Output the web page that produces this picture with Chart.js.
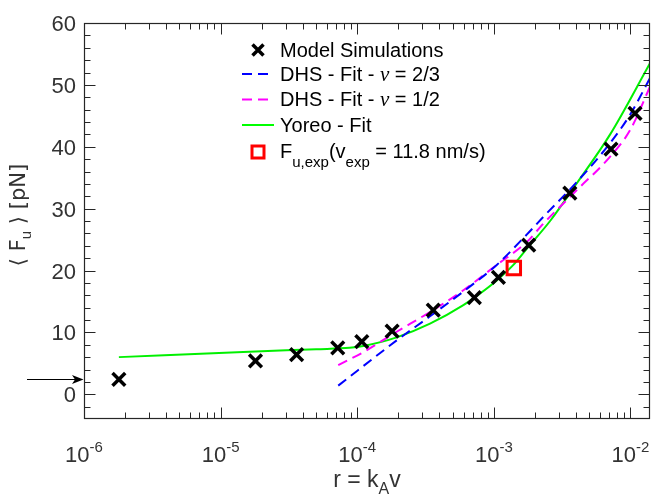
<!DOCTYPE html>
<html><head><meta charset="utf-8">
<script src="https://cdn.jsdelivr.net/npm/chart.js@4.4.0/dist/chart.umd.min.js"></script>
<style>html,body{margin:0;padding:0;background:#fff;}#wrap{width:651px;height:496px;position:relative;}</style>
</head><body><div id="wrap"><canvas id="c" width="651" height="496"></canvas></div>
<script>
// ---- data ----
const simX = [1.8e-6, 1.8e-5, 3.6e-5, 7.2e-5, 1.08e-4, 1.8e-4, 3.6e-4, 7.2e-4, 1.08e-3, 1.8e-3, 3.6e-3, 7.2e-3, 1.08e-2];
const simY = [2.4, 5.4, 6.4, 7.5, 8.5, 10.2, 13.6, 15.6, 18.9, 24.1, 32.5, 39.6, 45.4];

const dhs23X = [7.26e-5, 1.945e-4, 3.41e-4, 5.98e-4, 1.05e-3, 1.74e-3, 2.31e-3, 4.05e-3, 7.10e-3, 9.95e-3, 1.39e-2];
const dhs23Y = [1.4, 8.7, 12.6, 16.6, 20.9, 25.8, 28.7, 34.3, 40.6, 45.2, 51.1];

const dhs12X = [7.26e-5, 1.107e-4, 1.945e-4, 3.41e-4, 5.98e-4, 1.05e-3, 1.74e-3, 2.31e-3, 4.05e-3, 7.10e-3, 9.95e-3, 1.39e-2];
const dhs12Y = [4.7, 6.8, 10.1, 13.3, 16.8, 20.9, 24.6, 27.6, 33.0, 38.4, 42.7, 49.7];

const yoreoX = [1.8e-6, 1.8e-5, 5.0e-5, 8.8e-5, 1.107e-4, 1.945e-4, 3.41e-4, 5.98e-4, 7.94e-4, 1.05e-3, 1.39e-3, 1.74e-3, 2.58e-3, 4.05e-3, 7.10e-3, 1.39e-2];
const yoreoY = [6.0, 6.9, 7.28, 7.5, 7.8, 9.2, 11.4, 14.4, 16.3, 18.4, 20.9, 23.5, 28.0, 34.1, 42.0, 53.5];

const expX = [1.40e-3];
const expY = [20.4];

const xTickExps = [-6, -5, -4, -3, -2];
const yTickVals = [0, 10, 20, 30, 40, 50, 60];
const arrowY = 2.4;

const pts = (xs, ys) => xs.map((x, i) => ({x: x, y: ys[i]}));

const FONT = '"Liberation Sans", Arial, Helvetica, sans-serif';
const AXC = '#262626';

function drawParts(ctx, parts, x, y, align) {
  let w = 0;
  parts.forEach(p => { ctx.font = (p.style || '') + ' ' + p.size + 'px ' + (p.font || FONT); p.w = ctx.measureText(p.t).width; w += p.w; });
  let cx = align === 'center' ? x - w / 2 : (align === 'right' ? x - w : x);
  parts.forEach(p => {
    ctx.font = (p.style || '') + ' ' + p.size + 'px ' + (p.font || FONT);
    ctx.fillText(p.t, cx, y + (p.dy || 0));
    cx += p.w;
  });
}

const overlay = {
  id: 'overlay',
  afterDraw(chart) {
    const {ctx, chartArea: a, scales: {x, y}} = chart;
    ctx.save();
    ctx.strokeStyle = AXC;
    ctx.lineWidth = 1;
    ctx.beginPath();
    const L = a.left + 0.5, R = a.right - 0.5, T = a.top + 0.5, B = a.bottom - 0.5;
    for (let v = -4; v <= 60; v += 2) {
      const py = Math.round(y.getPixelForValue(v)) + 0.5;
      if (py > B - 1 || py < T + 1) continue;
      const len = (v % 10 === 0) ? 11 : 6;
      ctx.moveTo(L, py); ctx.lineTo(L + len, py);
      ctx.moveTo(R, py); ctx.lineTo(R - len, py);
    }
    for (let e = -6; e <= -2; e++) {
      for (let k = 1; k <= 9; k++) {
        const v = k * Math.pow(10, e);
        if (v > x.max * 1.0001 || v < x.min * 0.9999) continue;
        const px = Math.round(x.getPixelForValue(v)) + 0.5;
        if (px < L + 1 || px > R - 1) continue;
        const len = k === 1 ? 11 : 6;
        ctx.moveTo(px, B); ctx.lineTo(px, B - len);
        ctx.moveTo(px, T); ctx.lineTo(px, T + len);
      }
    }
    ctx.stroke();
    ctx.lineWidth = 1.2;
    ctx.strokeRect(L, T, R - L, B - T);

    ctx.fillStyle = '#333';
    ctx.textBaseline = 'middle';
    yTickVals.forEach(v => {
      drawParts(ctx, [{t: String(v), size: 22}], 76, y.getPixelForValue(v) + 2, 'right');
    });
    ctx.textBaseline = 'alphabetic';
    xTickExps.forEach(e => {
      const px = x.getPixelForValue(Math.pow(10, e));
      drawParts(ctx, [{t: '10', size: 22}, {t: String(e), size: 15, dy: -10}], px, 462, 'center');
    });

    drawParts(ctx, [{t: 'r = k', size: 23}, {t: 'A', size: 16, dy: 7}, {t: 'v', size: 23}], (a.left + a.right) / 2, 487, 'center');
    ctx.save();
    ctx.translate(25, (a.top + a.bottom) / 2 - 6);
    ctx.rotate(-Math.PI / 2);
    drawParts(ctx, [{t: '\u27E8 F', size: 21, font: '"DejaVu Sans", ' + FONT}, {t: 'u', size: 15, dy: 6}, {t: ' \u27E9 [pN]', size: 21, font: '"DejaVu Sans", ' + FONT}], 0, 0, 'center');
    ctx.restore();

    const ay = Math.round(y.getPixelForValue(arrowY)) + 0.5;
    ctx.strokeStyle = '#000'; ctx.fillStyle = '#000'; ctx.lineWidth = 1;
    ctx.beginPath(); ctx.moveTo(27, ay); ctx.lineTo(76, ay); ctx.stroke();
    ctx.beginPath(); ctx.moveTo(83.5, ay); ctx.lineTo(72, ay - 4.5); ctx.lineTo(75, ay); ctx.lineTo(72, ay + 4.5); ctx.closePath(); ctx.fill();

    const rows = [50, 74, 99.5, 125, 152];
    const tx = 280;
    ctx.fillStyle = '#000';
    ctx.textBaseline = 'middle';
    ctx.lineWidth = 3.5; ctx.strokeStyle = '#000';
    ctx.beginPath();
    ctx.moveTo(258 - 5.5, rows[0] - 5.5); ctx.lineTo(258 + 5.5, rows[0] + 5.5);
    ctx.moveTo(258 - 5.5, rows[0] + 5.5); ctx.lineTo(258 + 5.5, rows[0] - 5.5);
    ctx.stroke();
    drawParts(ctx, [{t: 'Model Simulations', size: 20}], tx, rows[0] + 1, 'left');
    [['#0000ff', '2/3', rows[1]], ['#ff00ff', '1/2', rows[2]]].forEach(([c, f, ry]) => {
      ctx.strokeStyle = c; ctx.lineWidth = 2; ctx.setLineDash([10, 6]);
      ctx.beginPath(); ctx.moveTo(242, ry); ctx.lineTo(272, ry); ctx.stroke();
      ctx.setLineDash([]);
      drawParts(ctx, [{t: 'DHS - Fit - ', size: 20}, {t: '\u03BD', size: 21, style: 'italic', font: '"Liberation Serif", "Times New Roman", serif'}, {t: ' = ' + f, size: 20}], tx, ry + 1, 'left');
    });
    ctx.strokeStyle = '#00ff00'; ctx.lineWidth = 2;
    ctx.beginPath(); ctx.moveTo(242, rows[3]); ctx.lineTo(274, rows[3]); ctx.stroke();
    drawParts(ctx, [{t: 'Yoreo - Fit', size: 20}], tx, rows[3] + 1, 'left');
    ctx.strokeStyle = '#ff0000'; ctx.lineWidth = 3;
    ctx.strokeRect(258 - 6, rows[4] - 6, 12, 12);
    drawParts(ctx, [{t: 'F', size: 20}, {t: 'u,exp', size: 15, dy: 11}, {t: '(v', size: 20}, {t: 'exp', size: 15, dy: 11}, {t: ' = 11.8 nm/s)', size: 20}], tx, rows[4], 'left');
    ctx.restore();
  }
};

new Chart(document.getElementById('c'), {
  type: 'scatter',
  data: {datasets: [
    {label: 'Model Simulations', data: pts(simX, simY), pointStyle: 'crossRot', pointRadius: 9, pointHoverRadius: 9, borderColor: '#000', backgroundColor: '#000', borderWidth: 3.5, showLine: false},
    {label: 'F_u,exp', data: pts(expX, expY), pointStyle: 'rect', pointRadius: 9.5, pointHoverRadius: 9.5, borderColor: '#ff0000', backgroundColor: 'rgba(0,0,0,0)', borderWidth: 3, showLine: false},
    {label: 'DHS - Fit - nu = 2/3', data: pts(dhs23X, dhs23Y), showLine: true, pointRadius: 0, borderColor: '#0000ff', borderWidth: 2, borderDash: [10, 6], cubicInterpolationMode: 'monotone'},
    {label: 'DHS - Fit - nu = 1/2', data: pts(dhs12X, dhs12Y), showLine: true, pointRadius: 0, borderColor: '#ff00ff', borderWidth: 2, borderDash: [10, 6], cubicInterpolationMode: 'monotone'},
    {label: 'Yoreo - Fit', data: pts(yoreoX, yoreoY), showLine: true, pointRadius: 0, borderColor: '#00f000', borderWidth: 2, cubicInterpolationMode: 'monotone'}
  ]},
  options: {
    responsive: false, animation: false, devicePixelRatio: 1,
    layout: {autoPadding: false, padding: {left: 0, right: 1, top: 23, bottom: 0}},
    plugins: {legend: {display: false}, tooltip: {enabled: false}},
    scales: {
      x: {type: 'logarithmic', min: 1e-6, max: 0.0139, grid: {display: false}, border: {display: false}, ticks: {display: false}, afterFit(s) { s.height = 77; }},
      y: {type: 'linear', min: -4, max: 60, grid: {display: false}, border: {display: false}, ticks: {display: false}, afterFit(s) { s.width = 84; }}
    }
  },
  plugins: [overlay]
});
</script>
</body></html>
